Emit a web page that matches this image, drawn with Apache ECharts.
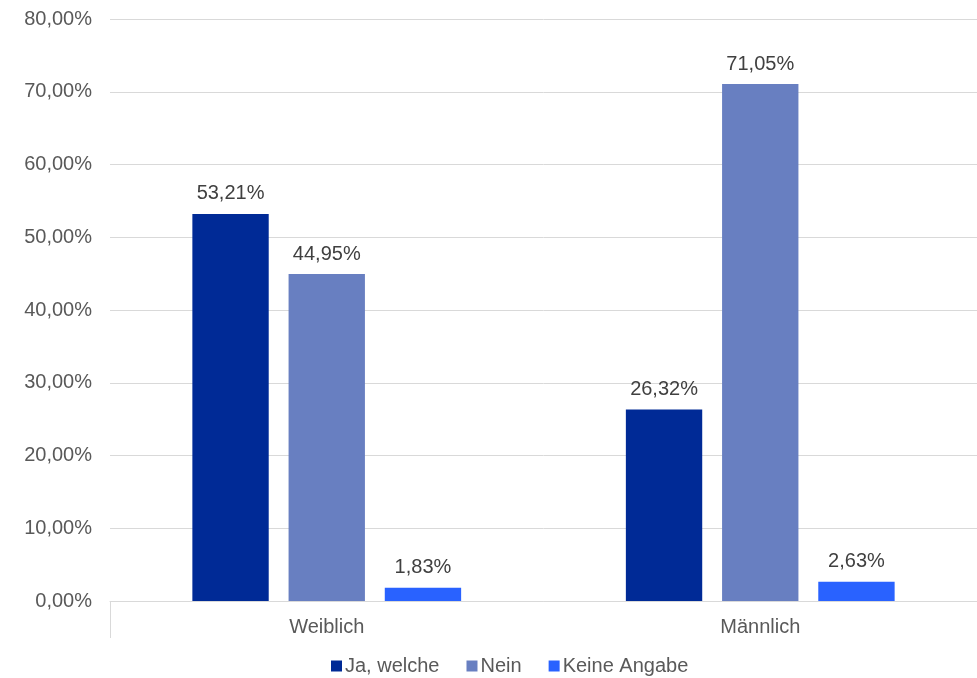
<!DOCTYPE html>
<html>
<head>
<meta charset="utf-8">
<script src="https://cdn.jsdelivr.net/npm/echarts@6/dist/echarts.min.js"></script>
<style>html,body{margin:0;padding:0;background:#fff;}#c{width:977px;height:678px;}</style>
</head>
<body>
<div id="c"></div>
<script>
const categories = ['Weiblich', 'Männlich'];
const seriesNames = ['Ja, welche', 'Nein', 'Keine Angabe'];
const jaWelche = [53.21, 26.32];
const nein = [44.95, 71.05];
const keineAngabe = [1.83, 2.63];
const yTicks = [0, 10, 20, 30, 40, 50, 60, 70, 80];

const colors = ['#002A96', '#687FC1', '#2962FF'];
const fmt = v => v.toFixed(2).replace('.', ',') + '%';
const font = '"Liberation Sans", Arial, sans-serif';

const chart = echarts.init(document.getElementById('c'), null, {renderer: 'canvas'});
const data = [jaWelche, nein, keineAngabe];
chart.setOption({
  animation: false,
  textStyle: {fontFamily: font},
  grid: {left: 110, right: 0, top: 19, bottom: 77, containLabel: false},
  legend: {
    top: 651, left: 326,
    itemWidth: 11, itemHeight: 11, itemGap: 27,
    icon: 'rect',
    textStyle: {fontSize: 20, color: '#595959', fontFamily: font, padding: [0, 0, 0, -2]},
    data: seriesNames
  },
  xAxis: {
    type: 'category',
    data: categories,
    axisLine: {lineStyle: {color: '#D9D9D9', width: 1}},
    axisTick: {show: true, length: 37, interval: function (i) { return i === 0; }, lineStyle: {color: '#D9D9D9'}},
    axisLabel: {fontSize: 20, color: '#595959', margin: 16, fontFamily: font}
  },
  yAxis: {
    type: 'value',
    min: yTicks[0], max: yTicks[yTicks.length - 1], interval: 10,
    axisLine: {show: false},
    axisTick: {show: false},
    splitLine: {lineStyle: {color: '#D9D9D9', width: 1}},
    axisLabel: {fontSize: 20, color: '#595959', margin: 18, fontFamily: font, formatter: v => fmt(v)}
  },
  series: seriesNames.map((n, i) => ({
    name: n,
    type: 'bar',
    data: data[i],
    barGap: '26%',
    barCategoryGap: '38%',
    itemStyle: {color: colors[i]},
    label: {show: true, position: 'top', distance: 10, fontSize: 20, color: '#404040', fontFamily: font, formatter: p => fmt(p.value)}
  }))
});
</script>
</body>
</html>
